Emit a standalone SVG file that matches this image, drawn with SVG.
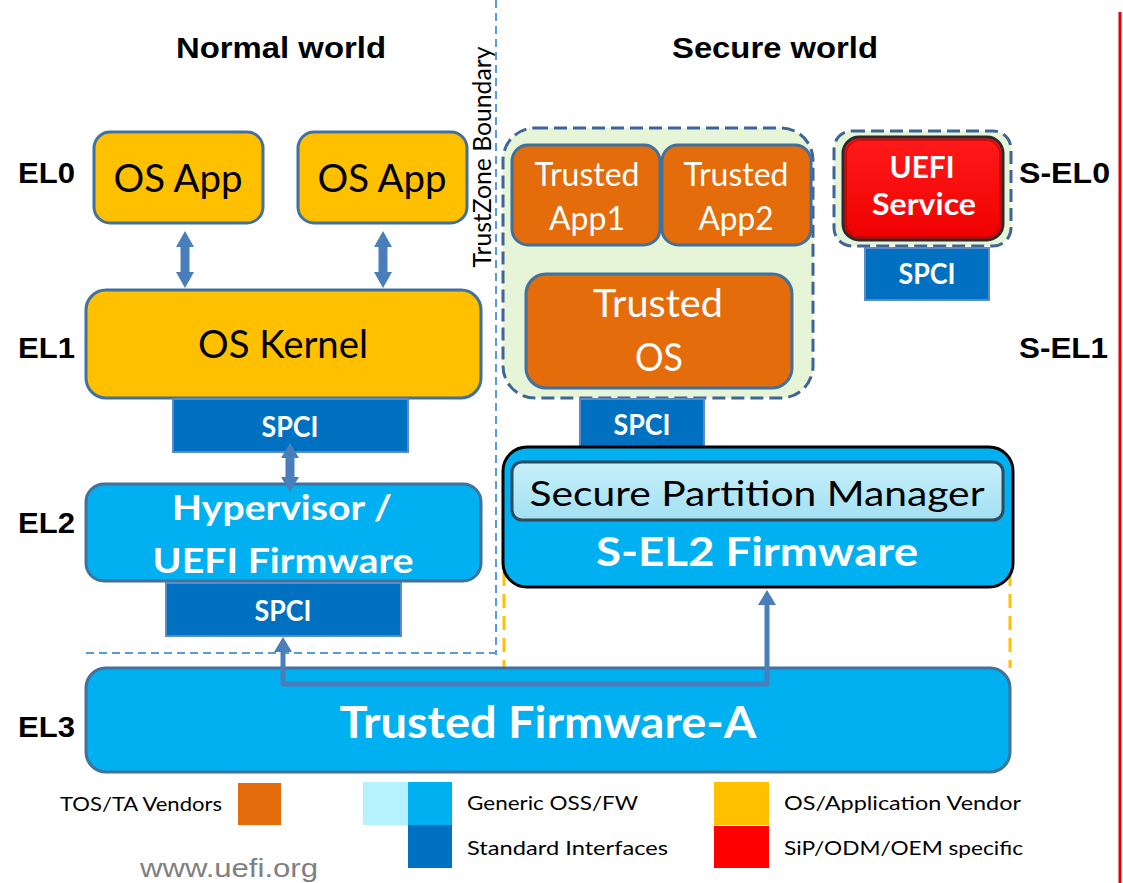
<svg xmlns="http://www.w3.org/2000/svg" width="1123" height="883" viewBox="0 0 1123 883">
<style>
.c{font-family:Lato,"Open Sans",sans-serif}
.a{font-family:"Liberation Sans",Arial,sans-serif;font-weight:bold;fill:#000}
.yel{fill:#FFC000;stroke:#41719C;stroke-width:3}
.cyan{fill:#00B0F0;stroke:#41719C;stroke-width:3}
.org{fill:#E46C0A;stroke:#41719C;stroke-width:3}
.spci{fill:#0070C0;stroke:#5B8AC6;stroke-width:2}
.grp{fill:#E6F5D8;stroke:#3E6595;stroke-width:3;stroke-dasharray:13 6}
.wt{fill:#fff}
.wb{fill:#fff;font-weight:bold}
.blk{fill:#000}
.arr{fill:#4A7EBB}
</style>
<defs>
<marker id="ah" viewBox="0 0 15 18" refX="0" refY="9" markerWidth="15" markerHeight="18" markerUnits="userSpaceOnUse" orient="auto-start-reverse">
<path d="M0,0 L15,9 L0,18 Z" fill="#4A7EBB"/>
</marker>
<linearGradient id="spm" x1="0" y1="0" x2="0" y2="1">
<stop offset="0" stop-color="#C8F0FA"/>
<stop offset="1" stop-color="#A2E0F2"/>
</linearGradient>
<linearGradient id="red" x1="0" y1="0" x2="0" y2="1">
<stop offset="0" stop-color="#FF1A1A"/>
<stop offset="1" stop-color="#F00000"/>
</linearGradient>
</defs>

<!-- boundaries -->
<g id="boundaries">
<line x1="496" y1="0" x2="496" y2="655" stroke="#5B9BD5" stroke-width="2" stroke-dasharray="8 5"/>
<line x1="86" y1="653" x2="496" y2="653" stroke="#5B9BD5" stroke-width="2" stroke-dasharray="8 5"/>
<line x1="504" y1="572" x2="504" y2="668" stroke="#FFC000" stroke-width="3" stroke-dasharray="14 8"/>
<line x1="1010" y1="572" x2="1010" y2="668" stroke="#FFC000" stroke-width="3" stroke-dasharray="14 8"/>
<line x1="1120" y1="12" x2="1120" y2="883" stroke="#E00000" stroke-width="3"/>
<text font-family="Lato,'Open Sans',sans-serif" font-size="25" fill="#000" text-anchor="middle" transform="translate(491,157) rotate(-90)" textLength="221" lengthAdjust="spacingAndGlyphs">TrustZone Boundary</text>
</g>

<!-- titles and levels -->
<g id="labels">
<text class="a" x="281" y="58" font-size="30" text-anchor="middle" textLength="210" lengthAdjust="spacingAndGlyphs">Normal world</text>
<text class="a" x="775" y="58" font-size="30" text-anchor="middle" textLength="206" lengthAdjust="spacingAndGlyphs">Secure world</text>
<text class="a" x="18" y="183" font-size="30" textLength="57" lengthAdjust="spacingAndGlyphs">EL0</text>
<text class="a" x="18" y="358" font-size="30" textLength="57" lengthAdjust="spacingAndGlyphs">EL1</text>
<text class="a" x="18" y="533" font-size="30" textLength="57" lengthAdjust="spacingAndGlyphs">EL2</text>
<text class="a" x="18" y="737" font-size="30" textLength="57" lengthAdjust="spacingAndGlyphs">EL3</text>
<text class="a" x="1019" y="183" font-size="30" textLength="91" lengthAdjust="spacingAndGlyphs">S-EL0</text>
<text class="a" x="1019" y="358" font-size="30" textLength="89" lengthAdjust="spacingAndGlyphs">S-EL1</text>
</g>

<!-- normal world -->
<g id="osapp1">
<rect class="yel" x="94" y="132" width="169" height="91" rx="16"/>
<text class="c blk" x="178" y="192" font-size="38" text-anchor="middle" textLength="129" lengthAdjust="spacingAndGlyphs">OS App</text>
</g>
<g id="osapp2">
<rect class="yel" x="298" y="132" width="169" height="91" rx="16"/>
<text class="c blk" x="382" y="192" font-size="38" text-anchor="middle" textLength="129" lengthAdjust="spacingAndGlyphs">OS App</text>
</g>
<g id="oskernel">
<rect class="yel" x="86" y="290" width="395" height="108" rx="20"/>
<text class="c blk" x="283" y="358" font-size="39" text-anchor="middle" textLength="170" lengthAdjust="spacingAndGlyphs">OS Kernel</text>
</g>
<g id="spci1">
<rect class="spci" x="173" y="399" width="235" height="53"/>
<text class="c wb" x="290" y="437" font-size="28" text-anchor="middle" textLength="57" lengthAdjust="spacingAndGlyphs">SPCI</text>
</g>
<g id="hypervisor">
<rect class="cyan" x="86" y="484" width="395" height="97" rx="18"/>
<text class="c wb" x="282" y="520" font-size="35" text-anchor="middle" textLength="220" lengthAdjust="spacingAndGlyphs">Hypervisor /</text>
<text class="c wb" x="283" y="573" font-size="35" text-anchor="middle" textLength="261" lengthAdjust="spacingAndGlyphs">UEFI Firmware</text>
</g>
<g id="spci2">
<rect class="spci" x="166" y="583" width="235" height="53"/>
<text class="c wb" x="283" y="621" font-size="28" text-anchor="middle" textLength="57" lengthAdjust="spacingAndGlyphs">SPCI</text>
</g>

<!-- secure world -->
<g id="secure-partition">
<rect class="grp" x="503" y="128" width="310" height="270" rx="32"/>
</g>
<g id="ta1">
<rect class="org" x="512" y="145" width="148" height="100" rx="16"/>
<text class="c wt" x="587" y="186" font-size="32" text-anchor="middle" textLength="105" lengthAdjust="spacingAndGlyphs">Trusted</text>
<text class="c wt" x="587" y="230" font-size="32" text-anchor="middle" textLength="76" lengthAdjust="spacingAndGlyphs">App1</text>
</g>
<g id="ta2">
<rect class="org" x="662" y="145" width="149" height="100" rx="16"/>
<text class="c wt" x="736" y="186" font-size="32" text-anchor="middle" textLength="105" lengthAdjust="spacingAndGlyphs">Trusted</text>
<text class="c wt" x="736" y="230" font-size="32" text-anchor="middle" textLength="75" lengthAdjust="spacingAndGlyphs">App2</text>
</g>
<g id="trustedos">
<rect class="org" x="526" y="274" width="266" height="114" rx="20"/>
<text class="c wt" x="658" y="317" font-size="38" text-anchor="middle" textLength="130" lengthAdjust="spacingAndGlyphs">Trusted</text>
<text class="c wt" x="659" y="371" font-size="38" text-anchor="middle" textLength="48" lengthAdjust="spacingAndGlyphs">OS</text>
</g>
<g id="spci3">
<rect class="spci" x="580" y="399" width="124" height="48"/>
<text class="c wb" x="642" y="435" font-size="28" text-anchor="middle" textLength="57" lengthAdjust="spacingAndGlyphs">SPCI</text>
</g>

<g id="uefi-partition">
<rect class="grp" x="834" y="131" width="177" height="115" rx="18"/>
</g>
<g id="uefiservice">
<rect x="843" y="137" width="160" height="103" rx="16" fill="url(#red)" stroke="#2B2B2B" stroke-width="3"/>
<rect x="846" y="140" width="154" height="97" rx="14" fill="none" stroke="#B00000" stroke-width="2" opacity="0.6"/>
<text class="c wb" x="922" y="178" font-size="31" text-anchor="middle" textLength="65" lengthAdjust="spacingAndGlyphs">UEFI</text>
<text class="c wb" x="924" y="215" font-size="31" text-anchor="middle" textLength="104" lengthAdjust="spacingAndGlyphs">Service</text>
</g>
<g id="spci4">
<rect class="spci" x="865" y="248" width="124" height="52"/>
<text class="c wb" x="927" y="284" font-size="28" text-anchor="middle" textLength="57" lengthAdjust="spacingAndGlyphs">SPCI</text>
</g>

<g id="sel2">
<rect x="503" y="447" width="510" height="140" rx="24" fill="#00B0F0" stroke="#000" stroke-width="3"/>
<rect x="512" y="462" width="491" height="58" rx="10" fill="url(#spm)" stroke="#2F4A5C" stroke-width="3"/>
<text class="c blk" x="757" y="506" font-size="35" text-anchor="middle" textLength="455" lengthAdjust="spacingAndGlyphs">Secure Partition Manager</text>
<text class="c wb" x="757" y="566" font-size="40" text-anchor="middle" textLength="322" lengthAdjust="spacingAndGlyphs">S-EL2 Firmware</text>
</g>

<g id="tfa">
<rect class="cyan" x="86" y="668" width="924" height="104" rx="20"/>
<text class="c wb" x="548" y="738" font-size="44" text-anchor="middle" textLength="417" lengthAdjust="spacingAndGlyphs">Trusted Firmware-A</text>
</g>

<!-- connectors -->
<g id="connectors">
<path class="arr" d="M185,231 L194,247 L189.5,247 L189.5,272 L194,272 L185,288 L176,272 L180.5,272 L180.5,247 L176,247 Z"/>
<path class="arr" d="M383,231 L392,247 L387.5,247 L387.5,272 L392,272 L383,288 L374,272 L378.5,272 L378.5,247 L374,247 Z"/>
<path class="arr" d="M290,443 L299,458 L294.5,458 L294.5,477 L299,477 L290,492 L281,477 L285.5,477 L285.5,458 L281,458 Z"/>
<path d="M283,652 L283,684 L767,684 L767,605" fill="none" stroke="#4A7EBB" stroke-width="5" stroke-linejoin="round" marker-start="url(#ah)" marker-end="url(#ah)"/>
</g>

<!-- legend -->
<g id="legend">
<text class="c blk" x="60" y="811" font-size="20" textLength="162" lengthAdjust="spacingAndGlyphs">TOS/TA Vendors</text>
<rect x="238" y="783" width="43" height="42" fill="#E46C0A"/>
<rect x="363" y="782" width="45" height="43" fill="#B4F2FD"/>
<rect x="408" y="782" width="44" height="43" fill="#00B0F0"/>
<rect x="408" y="825" width="44" height="43" fill="#0070C0"/>
<text class="c blk" x="467" y="810" font-size="20" textLength="171" lengthAdjust="spacingAndGlyphs">Generic OSS/FW</text>
<text class="c blk" x="467" y="855" font-size="20" textLength="201" lengthAdjust="spacingAndGlyphs">Standard Interfaces</text>
<rect x="714" y="782" width="55" height="43" fill="#FFC000"/>
<rect x="714" y="826" width="55" height="42" fill="#FF0000"/>
<text class="c blk" x="784" y="810" font-size="20" textLength="237" lengthAdjust="spacingAndGlyphs">OS/Application Vendor</text>
<text class="c blk" x="784" y="855" font-size="20" textLength="239" lengthAdjust="spacingAndGlyphs">SiP/ODM/OEM specific</text>
<text x="140" y="877" font-family="Liberation Sans,Arial,sans-serif" font-size="26" fill="#808080" textLength="178" lengthAdjust="spacingAndGlyphs">www.uefi.org</text>
</g>
</svg>
